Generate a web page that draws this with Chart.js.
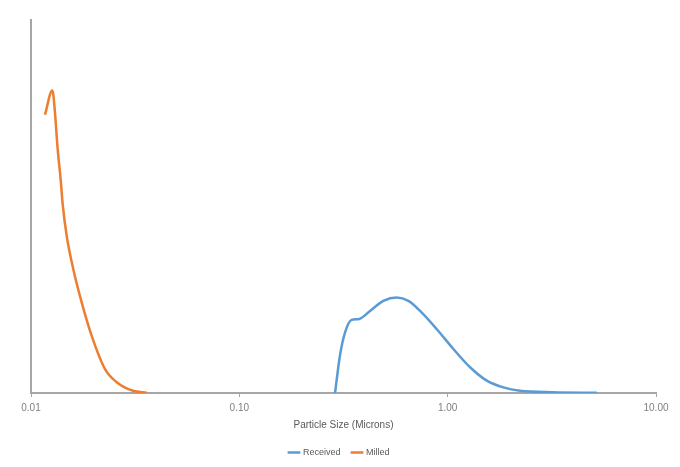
<!DOCTYPE html>
<html>
<head>
<meta charset="utf-8">
<script src="https://cdn.jsdelivr.net/npm/chart.js@4"></script>
<style>
html,body{margin:0;padding:0;background:#fff;}
#wrap{width:680px;height:467px;}
</style>
</head>
<body>
<div id="wrap"><canvas id="c" width="680" height="467"></canvas></div>
<script>
const receivedX = [0.288, 0.304, 0.322, 0.346, 0.373, 0.424, 0.491, 0.570, 0.648, 0.737, 0.887, 1.065, 1.281, 1.541, 1.851, 2.226, 3.206, 5.197];
const receivedY = [0, 10.0, 16.3, 19.6, 19.8, 22.0, 24.7, 25.6, 24.7, 22.0, 17.1, 11.8, 6.9, 3.3, 1.5, 0.6, 0.2, 0.05];
const milledX = [0.01167, 0.01266, 0.01300, 0.01340, 0.01389, 0.01420, 0.01484, 0.01596, 0.01751, 0.01956, 0.02266, 0.02579, 0.03088, 0.03592];
const milledY = [74.6, 81.1, 76.0, 66.0, 57.0, 50.5, 42.1, 33.2, 24.3, 15.3, 6.4, 2.9, 0.6, 0.1];
const tickValues = [0.01, 0.1, 1, 10];
const seriesNames = ['Received', 'Milled'];

const toPts = (xs, ys) => xs.map((x, i) => ({x: x, y: ys[i]}));

new Chart(document.getElementById('c'), {
  type: 'line',
  data: {
    datasets: [
      {label: seriesNames[0], data: toPts(receivedX, receivedY), borderColor: '#5B9BD5', backgroundColor: '#5B9BD5', borderWidth: 2.5, pointRadius: 0, cubicInterpolationMode: 'monotone', fill: false},
      {label: seriesNames[1], data: toPts(milledX, milledY), borderColor: '#ED7D31', backgroundColor: '#ED7D31', borderWidth: 2.5, pointRadius: 0, cubicInterpolationMode: 'monotone', fill: false}
    ]
  },
  options: {
    responsive: false,
    animation: false,
    layout: {padding: {left: 23, right: 24, top: 20, bottom: 0}},
    scales: {
      x: {
        type: 'logarithmic',
        min: 0.01, max: 10,
        afterBuildTicks: (axis) => { axis.ticks = tickValues.map(v => ({value: v})); },
        grid: {drawOnChartArea: false, drawTicks: true, tickLength: 4, color: '#a6a6a6'},
        border: {display: true, color: '#a6a6a6', width: 2},
        ticks: {
          color: '#7f7f7f', font: {family: 'Liberation Sans', size: 10}, maxRotation: 0, padding: 5,
          callback: (v) => Number(v).toFixed(2)
        },
        title: {display: true, text: 'Particle Size (Microns)', color: '#595959', font: {family: 'Liberation Sans', size: 10}, padding: {top: 0, bottom: 5}}
      },
      y: {
        min: 0, max: 100,
        grid: {display: false},
        border: {display: true, color: '#a6a6a6', width: 2},
        ticks: {display: false}
      }
    },
    plugins: {
      legend: {
        position: 'bottom',
        labels: {usePointStyle: true, pointStyle: 'line', boxWidth: 20, color: '#595959', font: {family: 'Liberation Sans', size: 9}, padding: 12}
      },
      tooltip: {enabled: false}
    }
  }
});
</script>
</body>
</html>
